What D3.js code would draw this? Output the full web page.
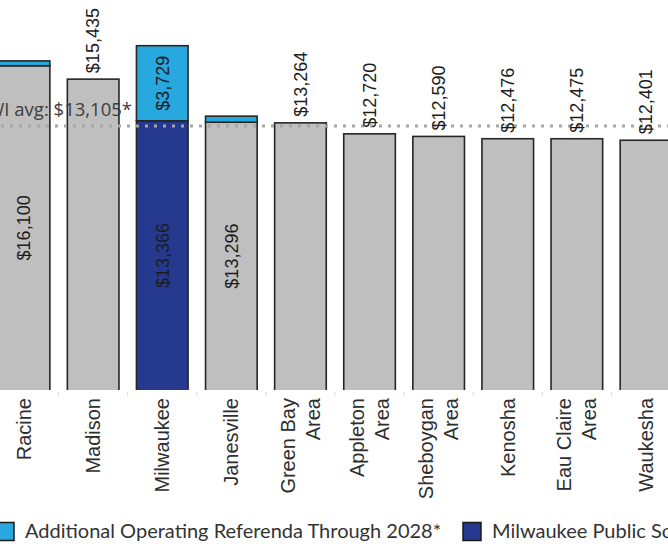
<!DOCTYPE html>
<html>
<head>
<meta charset="utf-8">
<script src="https://cdn.jsdelivr.net/npm/d3@7"></script>
<style>
  html, body { margin: 0; padding: 0; background: #ffffff; overflow: hidden; }
  svg { display: block; }
</style>
</head>
<body>
<svg id="chart" width="668" height="544"></svg>
<script>
// Per-pupil spending by district
const categories = ["Racine", "Madison", "Milwaukee", "Janesville", "Green Bay Area",
  "Appleton Area", "Sheboygan Area", "Kenosha", "Eau Claire Area", "Waukesha"];
const tickLines = [["Racine"], ["Madison"], ["Milwaukee"], ["Janesville"], ["Green Bay", "Area"],
  ["Appleton", "Area"], ["Sheboygan", "Area"], ["Kenosha"], ["Eau Claire", "Area"], ["Waukesha"]];
const baseValues = [16100, 15435, 13366, 13296, 13264, 12720, 12590, 12476, 12475, 12401];
const referendaValues = [240, 0, 3729, 300, 0, 0, 0, 0, 0, 0];
const mpsDistrict = "Milwaukee";
const stateAverage = 13105;
const averageLabel = "WI avg: $13,105*";
const legendLabels = ["Additional Operating Referenda Through 2028*", "Milwaukee Public Schools Referendum"];

const W = 668, H = 544;
const svg = d3.select("#chart");
const fmt = d3.format("$,");

const x = d3.scaleBand()
  .domain(categories)
  .range([-10.5, 680.5])
  .paddingInner(0.253)
  .paddingOuter(0.1265);

const y = d3.scaleLinear()
  .domain([0, 20000])
  .range([390, -12.8]);

const colors = { base: "#bfbfbf", mps: "#253a8e", referenda: "#27a8df", stroke: "#262626" };

svg.append("defs").append("clipPath").attr("id", "plotClip")
  .append("rect").attr("x", -50).attr("y", -50).attr("width", W + 100).attr("height", 440);

const rows = categories.map((c, i) => ({
  name: c, lines: tickLines[i], base: baseValues[i], extra: referendaValues[i]
}));

// small tick marks between categories
svg.append("g").selectAll("line")
  .data(categories.slice(0, -1))
  .join("line")
  .attr("x1", d => x(d) + x.step() - (x.step() - x.bandwidth()) / 2)
  .attr("x2", d => x(d) + x.step() - (x.step() - x.bandwidth()) / 2)
  .attr("y1", 392).attr("y2", 396)
  .attr("stroke", "#d9d9d9").attr("stroke-width", 1);

const bars = svg.append("g").attr("clip-path", "url(#plotClip)");

// base segment
bars.selectAll("rect.base")
  .data(rows)
  .join("rect")
  .attr("class", "base")
  .attr("x", d => x(d.name))
  .attr("width", x.bandwidth())
  .attr("y", d => y(d.base))
  .attr("height", d => y(0) - y(d.base) + 4)
  .attr("fill", d => d.name === mpsDistrict ? colors.mps : colors.base)
  .attr("stroke", colors.stroke)
  .attr("stroke-width", 1.6);

// referenda segment stacked on top
bars.selectAll("rect.extra")
  .data(rows.filter(d => d.extra > 0))
  .join("rect")
  .attr("class", "extra")
  .attr("x", d => x(d.name))
  .attr("width", x.bandwidth())
  .attr("y", d => y(d.base + d.extra))
  .attr("height", d => y(d.base) - y(d.base + d.extra))
  .attr("fill", colors.referenda)
  .attr("stroke", colors.stroke)
  .attr("stroke-width", 1.6);

// state average reference line
svg.append("line")
  .attr("x1", 1).attr("x2", W)
  .attr("y1", y(stateAverage)).attr("y2", y(stateAverage))
  .attr("stroke", "#a6a6a6")
  .attr("stroke-width", 3)
  .attr("stroke-dasharray", "3 6");

svg.append("text")
  .attr("x", 132)
  .attr("y", y(stateAverage) - 10)
  .attr("text-anchor", "end")
  .attr("font-family", "'Open Sans', sans-serif")
  .attr("font-size", 18.5)
  .attr("fill", "#3d3d3d")
  .text(averageLabel);

// value labels
const valueFont = "'Liberation Sans', Arial, sans-serif";
const labels = svg.append("g")
  .attr("font-family", valueFont)
  .attr("font-size", 18)
  .attr("fill", "#1c1c1c");

rows.forEach(d => {
  const cx = x(d.name) + x.bandwidth() / 2;
  if (d.extra > 0) {
    const cy = (y(0) + y(d.base)) / 2;
    labels.append("text")
      .attr("transform", `translate(${cx},${cy}) rotate(-90)`)
      .attr("text-anchor", "middle")
      .attr("dy", "0.35em")
      .text(fmt(d.base));
    if (d.extra > 1000) {
      const cy2 = (y(d.base) + y(d.base + d.extra)) / 2;
      labels.append("text")
        .attr("transform", `translate(${cx},${cy2}) rotate(-90)`)
        .attr("text-anchor", "middle")
        .attr("dy", "0.35em")
        .text(fmt(d.extra));
    }
  } else {
    labels.append("text")
      .attr("transform", `translate(${cx},${y(d.base) - 6}) rotate(-90)`)
      .attr("text-anchor", "start")
      .attr("dy", "0.35em")
      .text(fmt(d.base));
  }
});

// category labels
const cat = svg.append("g")
  .attr("font-family", "'Liberation Sans', Arial, sans-serif")
  .attr("font-size", 20)
  .attr("fill", "#2e2e2e");

rows.forEach(d => {
  const cx = x(d.name) + x.bandwidth() / 2;
  const n = d.lines.length;
  d.lines.forEach((line, j) => {
    const off = (j - (n - 1) / 2) * 25;
    cat.append("text")
      .attr("transform", `translate(${cx + off},398) rotate(-90)`)
      .attr("text-anchor", "end")
      .attr("dy", "0.35em")
      .text(line);
  });
});

// legend
const legend = svg.append("g")
  .attr("font-family", "Lato, 'Open Sans', sans-serif")
  .attr("font-size", 20)
  .attr("fill", "#333333");

const legendItems = [
  { label: legendLabels[0], color: colors.referenda, x: -4 },
  { label: legendLabels[1], color: colors.mps, x: 463 }
];
legendItems.forEach(item => {
  legend.append("rect")
    .attr("x", item.x).attr("y", 522.5)
    .attr("width", 18).attr("height", 18)
    .attr("fill", item.color)
    .attr("stroke", "#1a1a1a").attr("stroke-width", 1.5);
  legend.append("text")
    .attr("x", item.x + 29)
    .attr("y", 538)
    .text(item.label);
});
</script>
</body>
</html>
